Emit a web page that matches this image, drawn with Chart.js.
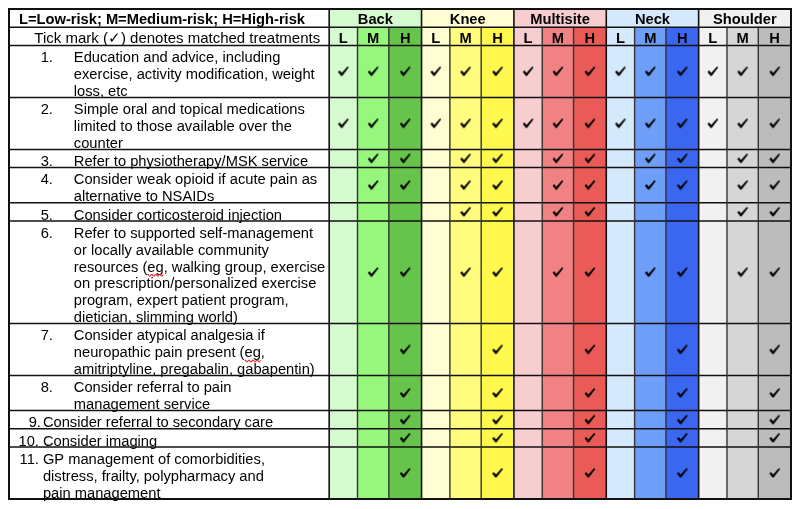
<!DOCTYPE html>
<html><head><meta charset="utf-8">
<script src="https://cdn.jsdelivr.net/npm/chart.js@4/dist/chart.umd.min.js"></script>
<style>html,body{margin:0;padding:0;background:#fff}#wrap{width:800px;height:509px;position:relative}</style>
</head><body><div id="wrap"><canvas id="c"></canvas></div>
<script>
// ---------------- DATA ----------------
const headerNote = 'L=Low-risk; M=Medium-risk; H=High-risk';
const tickNote = 'Tick mark (\u2713) denotes matched treatments';
const regions = ['Back', 'Knee', 'Multisite', 'Neck', 'Shoulder'];
const riskLevels = ['L', 'M', 'H'];
const treatmentNumbers = ['1.', '2.', '3.', '4.', '5.', '6.', '7.', '8.', '9.', '10.', '11.'];
const treatmentLines = [
  ['Education and advice, including', 'exercise, activity modification, weight', 'loss, etc'],
  ['Simple oral and topical medications', 'limited to those available over the', 'counter'],
  ['Refer to physiotherapy/MSK service'],
  ['Consider weak opioid if acute pain as', 'alternative to NSAIDs'],
  ['Consider corticosteroid injection'],
  ['Refer to supported self-management', 'or locally available community', 'resources (eg, walking group, exercise', 'on prescription/personalized exercise', 'program, expert patient program,', 'dietician, slimming world)'],
  ['Consider atypical analgesia if', 'neuropathic pain present (eg,', 'amitriptyline, pregabalin, gabapentin)'],
  ['Consider referral to pain', 'management service'],
  ['Consider referral to secondary care'],
  ['Consider imaging'],
  ['GP management of comorbidities,', 'distress, frailty, polypharmacy and', 'pain management']
];
// lowest risk level (0=L, 1=M, 2=H) from which each treatment is ticked; null = never ticked
const backFrom      = [0, 0, 1, 1, null, 1, 2, 2, 2, 2, 2];
const kneeFrom      = [0, 0, 1, 1, 1,    1, 2, 2, 2, 2, 2];
const multisiteFrom = [0, 0, 1, 1, 1,    1, 2, 2, 2, 2, 2];
const neckFrom      = [0, 0, 1, 1, null, 1, 2, 2, 2, 2, 2];
const shoulderFrom  = [0, 0, 1, 1, 1,    1, 2, 2, 2, 2, 2];
const regionFrom = [backFrom, kneeFrom, multisiteFrom, neckFrom, shoulderFrom];

// ---------------- LAYOUT / STYLE ----------------
const TEXT_W = 321;                 // width units of the text column
const LEVEL_W = [28.4, 31.4, 32.8]; // width units of L, M, H columns
const ROW_PAD = 0.08;               // extra height per row, in line units
const regionColors = [
  ['#d6fad0', '#97f77c', '#66c34b'],
  ['#fffed2', '#fffc7e', '#fff94e'],
  ['#f8cdd0', '#f08284', '#ea5a56'],
  ['#d5e9fc', '#6f9ef8', '#3a66f0'],
  ['#f1f1f1', '#d6d6d6', '#bcbcbc']
];
const numRight = [44, 44, 44, 44, 44, 44, 44, 44, 32, 30, 30];
const textLeft = [65, 65, 65, 65, 65, 65, 65, 65, 34, 34, 34];
const FONT = '"Liberation Sans", Arial, Helvetica, sans-serif';
const FSIZE = 14.7;

// columns
const columns = [];
let cx = TEXT_W;
regions.forEach((r, gi) => {
  riskLevels.forEach((lv, li) => {
    columns.push({ g: gi, l: li, x0: cx, x1: cx + LEVEL_W[li], color: regionColors[gi][li] });
    cx += LEVEL_W[li];
  });
});
const totalW = cx;

// rows
const rowLines = [1, 1].concat(treatmentLines.map(l => l.length));
const rowTop = [];
let cy = 0;
rowLines.forEach(n => { rowTop.push(cy); cy += n + ROW_PAD; });
rowTop.push(cy);
const totalH = cy;

// tick points
const tickPoints = [];
regionFrom.forEach((arr, gi) => {
  arr.forEach((from, ti) => {
    if (from === null) return;
    for (let li = from; li < 3; li++) {
      const col = columns[gi * 3 + li];
      tickPoints.push({ x: (col.x0 + col.x1) / 2, y: (rowTop[ti + 2] + rowTop[ti + 3]) / 2 });
    }
  });
});

// tick glyph image
const tickImg = document.createElement('canvas');
tickImg.width = 16; tickImg.height = 16;
(function () {
  const c = tickImg.getContext('2d');
  c.fillStyle = '#000';
  c.beginPath();
  c.moveTo(2.6, 8.4);
  c.lineTo(4.3, 7.0);
  c.lineTo(6.4, 9.6);
  c.lineTo(12.2, 3.0);
  c.lineTo(13.4, 3.9);
  c.lineTo(6.9, 12.6);
  c.lineTo(5.8, 12.6);
  c.closePath();
  c.fill();
})();

const tablePlugin = {
  id: 'tablePlugin',
  beforeDatasetsDraw(chart) {
    const { ctx, scales: { x, y } } = chart;
    const X = v => x.getPixelForValue(v), Y = v => y.getPixelForValue(v);
    ctx.save();
    ctx.fillStyle = '#fff';
    ctx.fillRect(X(0), Y(0), X(totalW) - X(0), Y(totalH) - Y(0));
    // column fills
    columns.forEach(col => {
      ctx.fillStyle = col.color;
      ctx.fillRect(X(col.x0), Y(rowTop[1]), X(col.x1) - X(col.x0), Y(totalH) - Y(rowTop[1]));
    });
    // header group fills
    regions.forEach((r, gi) => {
      const a = columns[gi * 3].x0, b = columns[gi * 3 + 2].x1;
      ctx.fillStyle = regionColors[gi][0];
      ctx.fillRect(X(a), Y(rowTop[0]), X(b) - X(a), Y(rowTop[1]) - Y(rowTop[0]));
    });
    // texts
    ctx.fillStyle = '#000';
    ctx.textBaseline = 'alphabetic';
    ctx.font = 'bold ' + FSIZE + 'px ' + FONT;
    ctx.textAlign = 'left';
    ctx.fillText(headerNote, X(10), Y(rowTop[0] + 0.9));
    regions.forEach((r, gi) => {
      const a = columns[gi * 3].x0, b = columns[gi * 3 + 2].x1;
      ctx.textAlign = 'center';
      ctx.fillText(r, X((a + b) / 2), Y(rowTop[0] + 0.9));
    });
    columns.forEach(col => {
      ctx.textAlign = 'center';
      ctx.fillText(riskLevels[col.l], X((col.x0 + col.x1) / 2), Y(rowTop[1] + 0.92));
    });
    ctx.font = (FSIZE + 0.3) + 'px ' + FONT;
    ctx.textAlign = 'right';
    ctx.fillText(tickNote, X(TEXT_W - 9), Y(rowTop[1] + 0.92));
    ctx.font = FSIZE + 'px ' + FONT;
    treatmentLines.forEach((lines, ti) => {
      const top = rowTop[ti + 2];
      ctx.textAlign = 'right';
      ctx.fillText(treatmentNumbers[ti], X(numRight[ti]), Y(top + 1.0));
      ctx.textAlign = 'left';
      lines.forEach((ln, k) => {
        const bx = X(textLeft[ti]), by = Y(top + 1.0 + k);
        ctx.fillText(ln, bx, by);
        const idx = ln.indexOf('(eg');
        if (idx >= 0) {
          const sx = bx + ctx.measureText(ln.slice(0, idx + 1)).width;
          const w = ctx.measureText('eg').width;
          ctx.save();
          ctx.strokeStyle = '#d9262b';
          ctx.lineWidth = 1.1;
          ctx.beginPath();
          for (let t = 0; t <= w; t += 1) {
            const yy = by + 3 + (Math.floor(t / 2) % 2 === 0 ? 0 : 1.5);
            if (t === 0) ctx.moveTo(sx + t, yy); else ctx.lineTo(sx + t, yy);
          }
          ctx.stroke();
          ctx.restore();
        }
      });
    });
    ctx.restore();
  },
  afterDatasetsDraw(chart) {
    const { ctx, scales: { x, y } } = chart;
    const X = v => x.getPixelForValue(v), Y = v => y.getPixelForValue(v);
    ctx.save();
    ctx.lineCap = 'square';
    // horizontal lines
    ctx.strokeStyle = '#111';
    ctx.lineWidth = 1.5;
    rowTop.forEach((v, i) => {
      if (i === 0 || i === rowTop.length - 1) return;
      ctx.beginPath(); ctx.moveTo(X(0), Y(v)); ctx.lineTo(X(totalW), Y(v)); ctx.stroke();
    });
    // inner vertical lines
    columns.forEach(col => {
      if (col.l === 0) return;
      ctx.strokeStyle = '#333';
      ctx.lineWidth = 1.4;
      ctx.beginPath(); ctx.moveTo(X(col.x0), Y(rowTop[1])); ctx.lineTo(X(col.x0), Y(totalH)); ctx.stroke();
    });
    // group vertical lines
    ctx.strokeStyle = '#111';
    ctx.lineWidth = 1.6;
    columns.forEach(col => {
      if (col.l !== 0) return;
      ctx.beginPath(); ctx.moveTo(X(col.x0), Y(0)); ctx.lineTo(X(col.x0), Y(totalH)); ctx.stroke();
    });
    // outer frame
    ctx.lineWidth = 2;
    ctx.strokeRect(X(0), Y(0), X(totalW) - X(0), Y(totalH) - Y(0));
    ctx.restore();
  }
};

new Chart(document.getElementById('c'), {
  type: 'scatter',
  data: {
    datasets: [{
      data: tickPoints,
      pointStyle: tickImg,
      pointRadius: 8,
      pointHoverRadius: 8
    }]
  },
  options: {
    responsive: true,
    maintainAspectRatio: false,
    animation: false,
    events: [],
    layout: { padding: { left: 7, top: 7, right: 9, bottom: 10 } },
    plugins: { legend: { display: false }, tooltip: { enabled: false } },
    scales: {
      x: { type: 'linear', min: 0, max: totalW, display: false },
      y: { type: 'linear', min: 0, max: totalH, reverse: true, display: false }
    }
  },
  plugins: [tablePlugin]
});
</script>
</body></html>
